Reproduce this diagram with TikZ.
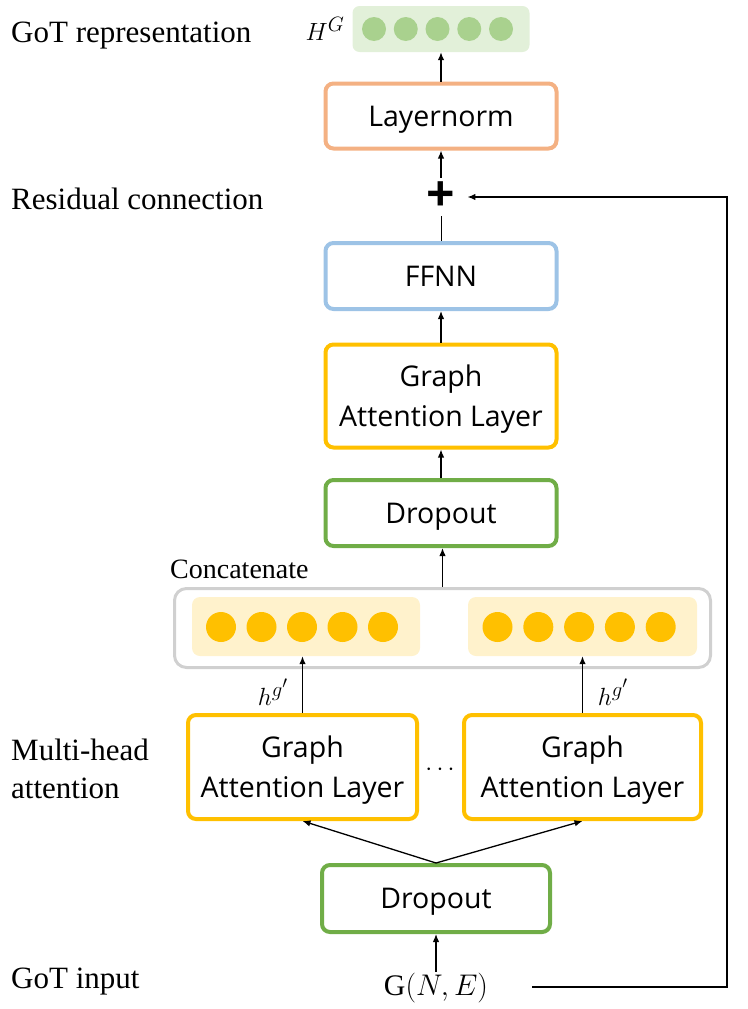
\documentclass[tikz,border=0pt]{standalone}
\usepackage{fontspec}
\setmainfont{Liberation Serif}
\newfontfamily\boxfont{Open Sans}
\usetikzlibrary{arrows.meta}
\usepackage{xcolor}
\definecolor{normorange}{HTML}{F4B183}
\definecolor{ffnnblue}{HTML}{9DC3E6}
\definecolor{gatyellow}{HTML}{FFC000}
\definecolor{dropgreen}{HTML}{70AD47}
\definecolor{bargreen}{HTML}{E2F0D9}
\definecolor{dotgreen}{HTML}{A9D18E}
\definecolor{headfill}{HTML}{FFF2CC}
\definecolor{concatgray}{HTML}{D0D0D0}

\begin{document}
\begin{tikzpicture}[x=1pt,y=-1pt,
    box/.style = {draw, line width=4pt, rounded corners=8pt, fill=white,
                minimum width=#1, inner sep=0pt, align=center, text depth=0pt,
                font=\boxfont\fontsize{28.5}{40}\selectfont},
    box/.default = 231,
    dot/.style = {circle, fill=#1, minimum size=30pt,
                inner sep=0pt, outer sep=0pt},
    dot/.default = gatyellow,
    lbl/.style = {anchor=west, align=left, inner sep=0pt,
                font=\fontsize{31}{38}\selectfont},
    mathlbl/.style = {inner sep=1pt, font=\fontsize{24.88}{25}\selectfont},
    arr/.style = {-{Latex[length=8pt,width=6.5pt]}, line width=1.3pt}
                    ]
        \useasboundingbox (0,0) rectangle (747,1009);
        % left column
        \node[lbl] (trep) at (11,36) {GoT representation};
        \node[lbl] (tres) at (11,199) {Residual connection};
        \node[lbl] (tmulti) at (11,769) {Multi-head\\attention};
        \node[lbl] (tin) at (11,982) {GoT input};
        % output
        \node[fill=bargreen, rounded corners=7pt, minimum width=177pt,
            minimum height=46pt, inner sep=0pt] (bar) at (441,29) {};
        \foreach \i in {0,...,4}
            \node[dot=dotgreen, minimum size=24pt] (hg\i) at (374+31.75*\i,29) {};
        \node[mathlbl] (hG) at (325,29) {$H^G$};
        \node[box, draw=normorange, minimum height=65pt] (norm) at (441,116) {Layernorm};
        \node[inner sep=4pt, font=\boxfont\bfseries\fontsize{50}{50}\selectfont] (plus) at (441,197) {+};
        \node[box, draw=ffnnblue, minimum height=66pt] (ffnn) at (441,276) {FFNN};
        \node[box, draw=gatyellow, minimum height=103pt] (gat) at (441,396) {Graph\\Attention Layer};
        \node[box, draw=dropgreen, minimum height=66pt] (drop) at (441,513) {Dropout};
        % concatenation of the heads
        \node[anchor=west, inner sep=0pt, font=\fontsize{28}{32}\selectfont] (tconcat) at (170,569) {Concatenate};
        \node[draw=concatgray, line width=3pt, rounded corners=12pt,
            minimum width=536pt, minimum height=79pt] (concat) at (442.5,628) {};
        \node[fill=headfill, rounded corners=8pt, minimum width=228pt,
            minimum height=59pt, inner sep=0pt] (inl) at (306,626.5) {};
        \node[fill=headfill, rounded corners=8pt, minimum width=229pt,
            minimum height=59pt, inner sep=0pt] (inr) at (582.5,626.5) {};
        \foreach \i in {0,...,4}
        {
            \node[dot] (hl\i) at (221+40.5*\i,627) {};
            \node[dot] (hr\i) at (497.5+40.8*\i,627) {};
        }
        \node[mathlbl] (hgl) at (273,692) {$h^{g'}$};
        \node[mathlbl] (hgr) at (613,692) {$h^{g'}$};
        % heads
        \node[box=229, draw=gatyellow, minimum height=104pt] (gl) at (302.5,767) {Graph\\Attention Layer};
        \node[box=237, draw=gatyellow, minimum height=104pt] (gr) at (582.5,767) {Graph\\Attention Layer};
        \node[mathlbl] (hdots) at (440,770) {$\cdots$};
        \node[box=228, draw=dropgreen, minimum height=67pt] (drop2) at (436,898.5) {Dropout};
        \node[inner sep=1pt, font=\fontsize{24.88}{25}\selectfont] (gin) at (436,988) {\scalebox{1.2}{$\mathrm{G}(N,E)$}};
        \coordinate (resin) at (532,987);
        \coordinate (rescorner) at (727,987);
        % connections
        \draw[arr] (gin.north) -- (drop2.south);
        \draw[arr] (drop2.north) -- (gl.south);
        \draw[arr] (drop2.north) -- (gr.south);
        \draw[arr] (gl.north) -- (gl.north |- inl.south);
        \draw[arr] (gr.north) -- (gr.north |- inr.south);
        \draw[arr] (concat.north) -- (concat.north |- drop.south);
        \draw[arr] (drop.north) -- (gat.south);
        \draw[arr] (gat.north) -- (ffnn.south);
        \draw[line width=1pt] (ffnn.north) -- (plus.south);
        \draw[arr] (plus.north) -- (norm.south);
        \draw[arr] (norm.north) -- (bar.south);
        \draw[arr, shorten >=8pt] (resin) -- (rescorner) |- (plus.east);
    \end{tikzpicture}
\end{document}
